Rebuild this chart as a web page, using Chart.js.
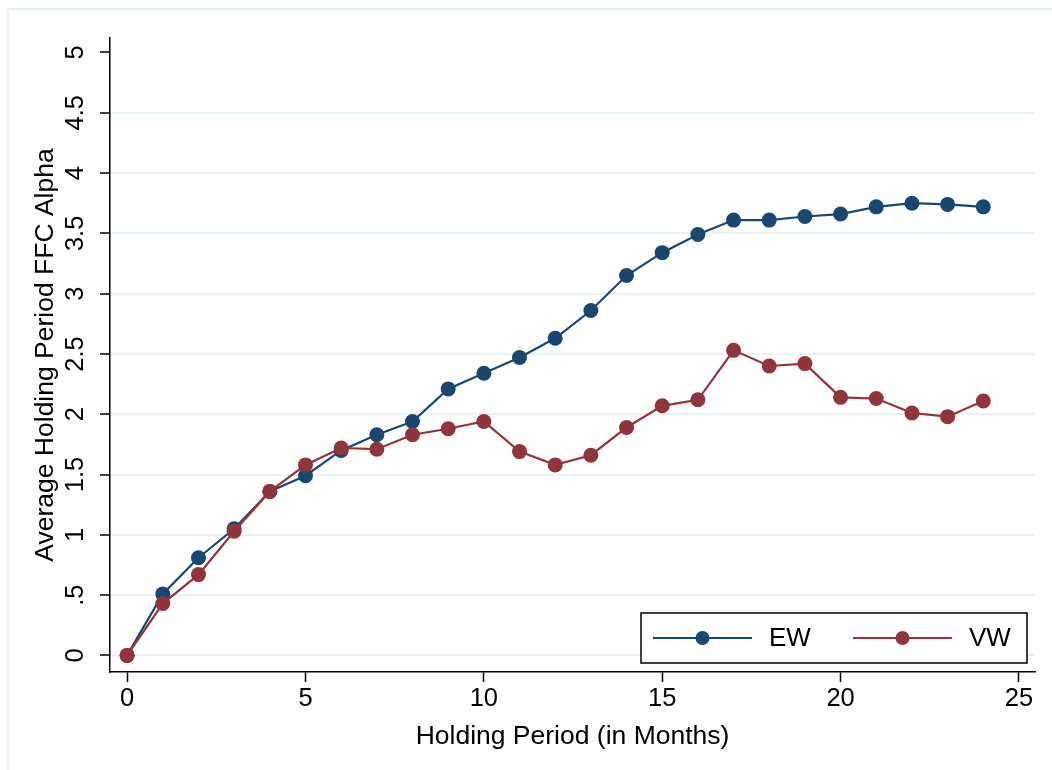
<!DOCTYPE html>
<html>
<head>
<meta charset="utf-8">
<title>Average Holding Period FFC Alpha</title>
<script src="https://cdn.jsdelivr.net/npm/chart.js@4"></script>
<style>
  html, body { margin: 0; padding: 0; background: #fff; }
  #wrap { position: relative; width: 1052px; height: 770px; overflow: hidden; }
  #frame { position: absolute; left: 7px; top: 8px; width: 1100px; height: 800px;
           border-top: 2px solid #e6eef0; border-left: 2px solid #e6eef0; }
  #chart { position: absolute; left: 0; top: 0; }
</style>
</head>
<body>
<div id="wrap">
  <div id="frame"></div>
  <canvas id="chart" width="1052" height="770"></canvas>
</div>
<script>
// holding period in months
const months = [0, 1, 2, 3, 4, 5, 6, 7, 8, 9, 10, 11, 12, 13, 14, 15, 16, 17, 18, 19, 20, 21, 22, 23, 24];
// equal weighted
const ew = [0, 0.51, 0.81, 1.05, 1.36, 1.49, 1.70, 1.83, 1.94, 2.21, 2.34, 2.47, 2.63, 2.86, 3.15, 3.34, 3.49, 3.61, 3.61, 3.64, 3.66, 3.72, 3.75, 3.74, 3.72];
// value weighted
const vw = [0, 0.43, 0.67, 1.03, 1.36, 1.58, 1.72, 1.71, 1.83, 1.88, 1.94, 1.69, 1.58, 1.66, 1.89, 2.07, 2.12, 2.53, 2.40, 2.42, 2.14, 2.13, 2.01, 1.98, 2.11];

const xTicks = [0, 5, 10, 15, 20, 25];
const yTicks = [0, 0.5, 1, 1.5, 2, 2.5, 3, 3.5, 4, 4.5, 5];

const FONT = '"Liberation Sans", Arial, sans-serif';
const NAVY = '#1a476f';
const MAROON = '#90353b';

// Stata style legend box inside the plot region
const stataLegend = {
    id: 'stataLegend',
    afterDraw(chart) {
        const ctx = chart.ctx;
        const area = chart.chartArea;
        const boxR = area.right - 8, boxB = area.bottom - 9;
        const boxW = 386, boxH = 50;
        const boxL = boxR - boxW, boxT = boxB - boxH;
        ctx.save();
        ctx.fillStyle = '#fff';
        ctx.fillRect(boxL, boxT, boxW, boxH);
        ctx.strokeStyle = '#000';
        ctx.lineWidth = 1.5;
        ctx.strokeRect(boxL, boxT, boxW, boxH);
        const cy = boxT + 25;
        const items = [chart.data.datasets[0], chart.data.datasets[1]];
        items.forEach((ds, i) => {
            const x0 = boxL + 12 + i * 200;
            ctx.strokeStyle = ds.borderColor;
            ctx.lineWidth = 2;
            ctx.beginPath();
            ctx.moveTo(x0, cy);
            ctx.lineTo(x0 + 99, cy);
            ctx.stroke();
            ctx.fillStyle = ds.backgroundColor;
            ctx.beginPath();
            ctx.arc(x0 + 49.5, cy, 7, 0, Math.PI * 2);
            ctx.fill();
            ctx.fillStyle = '#000';
            ctx.font = '26px ' + FONT;
            ctx.textAlign = 'left';
            ctx.textBaseline = 'middle';
            ctx.fillText(ds.label, x0 + 116, cy + 1);
        });
        ctx.restore();
    }
};

const ctx = document.getElementById('chart').getContext('2d');
new Chart(ctx, {
    type: 'line',
    data: {
        labels: months,
        datasets: [
            {
                label: 'EW',
                data: months.map((m, i) => ({x: m, y: ew[i]})),
                borderColor: NAVY,
                backgroundColor: NAVY,
                borderWidth: 2.2,
                pointRadius: 7.5,
                pointHoverRadius: 7.5,
                pointBorderWidth: 0,
                tension: 0,
                order: 1
            },
            {
                label: 'VW',
                data: months.map((m, i) => ({x: m, y: vw[i]})),
                borderColor: MAROON,
                backgroundColor: MAROON,
                borderWidth: 2.2,
                pointRadius: 7.5,
                pointHoverRadius: 7.5,
                pointBorderWidth: 0,
                tension: 0,
                order: 0
            }
        ]
    },
    options: {
        responsive: false,
        animation: false,
        events: [],
        layout: { padding: { left: 0, right: 17, top: 38, bottom: 0 } },
        plugins: {
            legend: { display: false },
            tooltip: { enabled: false }
        },
        scales: {
            x: {
                type: 'linear',
                min: -0.48,
                max: 25.45,
                afterBuildTicks: scale => { scale.ticks = xTicks.map(v => ({value: v})); },
                afterFit: scale => { scale.height = 98; },
                grid: { drawOnChartArea: false, tickLength: 10, tickColor: '#000', tickWidth: 1.5 },
                border: { display: true, color: '#000', width: 1.5 },
                ticks: {
                    color: '#000',
                    font: { family: FONT, size: 25.5 },
                    padding: 2,
                    maxRotation: 0,
                    minRotation: 0
                },
                title: {
                    display: true,
                    text: 'Holding Period (in Months)',
                    color: '#000',
                    font: { family: FONT, size: 26.5 },
                    padding: { top: 0, bottom: 17 }
                }
            },
            y: {
                type: 'linear',
                min: -0.1375,
                max: 5.12,
                afterBuildTicks: scale => { scale.ticks = yTicks.map(v => ({value: v})); },
                afterFit: scale => { scale.width = 110; },
                grid: {
                    color: c => (c.tick && c.tick.value === 5) ? 'rgba(0,0,0,0)' : '#eaf2f3',
                    lineWidth: 2,
                    tickLength: 10,
                    tickColor: '#000',
                    tickWidth: 1.5
                },
                border: { display: true, color: '#000', width: 1.5 },
                ticks: {
                    color: '#000',
                    font: { family: FONT, size: 25.5 },
                    padding: 6,
                    minRotation: 90,
                    maxRotation: 90,
                    crossAlign: 'center',
                    callback: v => v === 0 ? '0' : String(v).replace(/^0\./, '.')
                },
                title: {
                    display: true,
                    text: 'Average Holding Period FFC Alpha',
                    color: '#000',
                    font: { family: FONT, size: 26.5 },
                    padding: { top: 30, bottom: 0 }
                }
            }
        }
    },
    plugins: [stataLegend]
});
</script>
</body>
</html>
